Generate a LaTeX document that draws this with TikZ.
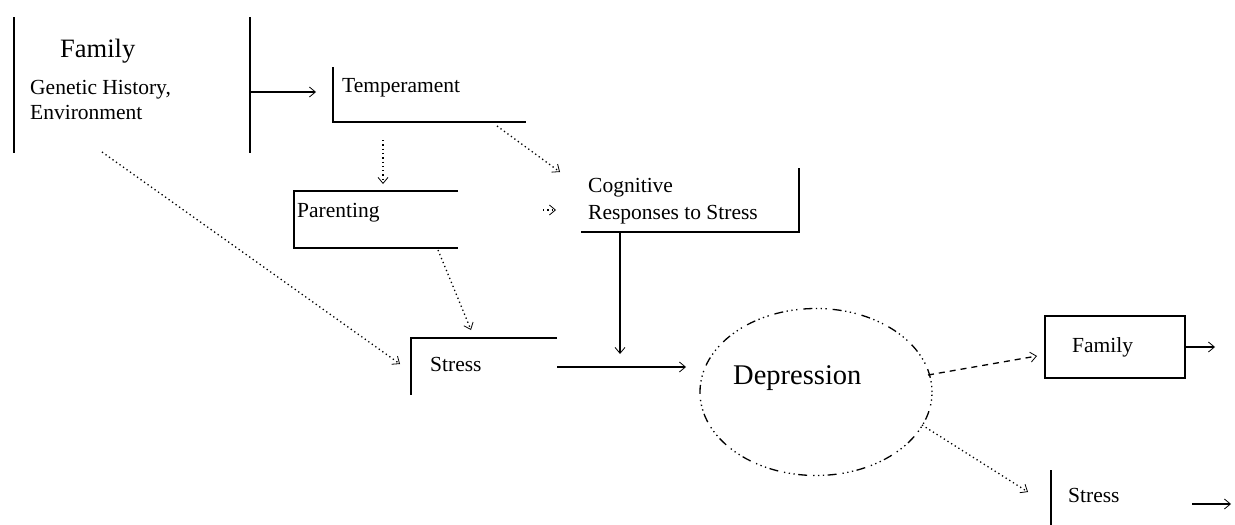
\documentclass[tikz,border=0pt]{standalone}
\usepackage{fontspec}
\setmainfont{Liberation Serif}
\usetikzlibrary{arrows.meta,shapes.geometric}
\begin{document}
\begin{tikzpicture}[x=1pt,y=-1pt,
  lbl/.style={anchor=base west,inner sep=0pt,font=\fontsize{21.5}{24}\selectfont},
  bar/.style={line width=1.3pt},
  sarrow/.style={line width=1.3pt,-{Straight Barb[length=6pt,width=10pt,line width=0.8pt]}},
  darrow/.style={line width=1.3pt,dash pattern=on 1.3pt off 3pt,-{Straight Barb[length=6pt,width=10pt,line width=0.8pt]}},
  dasharrow/.style={line width=1.3pt,dash pattern=on 6pt off 5pt,-{Straight Barb[length=6pt,width=10pt,line width=0.8pt]}},
  ell/.style={line width=1.3pt,dash pattern=on 1.3pt off 3.5pt on 1.3pt off 3.5pt on 1.3pt off 3.5pt on 9pt off 6pt}]
\useasboundingbox (0,0) rectangle (1235,525);
% Family (genetic)
\coordinate (fa1) at (14,17); \coordinate (fa2) at (14,153);
\coordinate (fb1) at (250,17); \coordinate (fb2) at (250,153);
\draw[bar] (fa1) -- (fa2); \draw[bar] (fb1) -- (fb2);
\node[lbl,font=\fontsize{26.5}{30}\selectfont] (famT) at (60,57) {Family};
\node[lbl] (gen) at (30,94) {Genetic History,};
\node[lbl] (env) at (30,119) {Environment};
\coordinate (fout) at (250,92); \coordinate (tin) at (316,92);
\draw[sarrow] (fout) -- (tin);
% Temperament
\coordinate (t1) at (333,67); \coordinate (t2) at (333,122); \coordinate (t3) at (526,122);
\draw[bar] (t1) -- (t2) -- (t3);
\node[lbl] (temp) at (342,92) {Temperament};
\coordinate (tpa) at (383,140); \coordinate (pat) at (383,184);
\draw[darrow] (tpa) -- (pat);
\coordinate (tco) at (497,126); \coordinate (cot) at (560,172);
\draw[darrow] (tco) -- (cot);
% Parenting
\coordinate (p1) at (458,191); \coordinate (p2) at (294,191); \coordinate (p3) at (294,248); \coordinate (p4) at (458,248);
\draw[bar] (p1) -- (p2) -- (p3) -- (p4);
\node[lbl] (par) at (297,217) {Parenting};
\coordinate (pco1) at (543,210); \coordinate (pco2) at (556,210);
\draw[darrow] (pco1) -- (pco2);
\coordinate (pst1) at (438,250); \coordinate (pst2) at (471,330);
\draw[darrow] (pst1) -- (pst2);
% Cognitive
\coordinate (c1) at (799,168); \coordinate (c2) at (799,232); \coordinate (c3) at (581,232);
\draw[bar] (c1) -- (c2) -- (c3);
\node[lbl] (cog) at (588,192) {Cognitive};
\node[lbl] (resp) at (588,219) {Responses to Stress};
\coordinate (cdown) at (620,232); \coordinate (cend) at (620,354);
\draw[sarrow] (cdown) -- (cend);
% Family -> Stress dotted
\coordinate (fs1) at (102,152); \coordinate (fs2) at (400,364);
\draw[darrow] (fs1) -- (fs2);
% Stress
\coordinate (s1) at (557,338); \coordinate (s2) at (411,338); \coordinate (s3) at (411,395);
\draw[bar] (s1) -- (s2) -- (s3);
\node[lbl] (str) at (430,371) {Stress};
\coordinate (sout) at (557,367); \coordinate (din) at (686,367);
\draw[sarrow] (sout) -- (din);
% Depression
\node[ell,draw,ellipse,minimum width=232pt,minimum height=167pt,inner sep=0pt] (dep) at (816,392) {};
\node[lbl,font=\fontsize{28.5}{32}\selectfont] (deptxt) at (733,384) {Depression};
\coordinate (dfa) at (928,375); \coordinate (fain) at (1037,356);
\draw[dasharrow] (dfa) -- (fain);
\coordinate (dst) at (922,425); \coordinate (stin) at (1028,492);
\draw[darrow] (dst) -- (stin);
% Family right
\node[draw,line width=1.3pt,minimum width=140pt,minimum height=62pt,inner sep=0pt] (famR) at (1115,347) {};
\node[lbl] (famRt) at (1072,352) {Family};
\coordinate (frend) at (1215,347);
\draw[sarrow] (famR.east) -- (frend);
% Stress right
\coordinate (sr1) at (1051,470); \coordinate (sr2) at (1051,525);
\draw[bar] (sr1) -- (sr2);
\node[lbl] (strR) at (1068,502) {Stress};
\coordinate (sra1) at (1192,504); \coordinate (sra2) at (1231,504);
\draw[sarrow] (sra1) -- (sra2);
\end{tikzpicture}
\end{document}
